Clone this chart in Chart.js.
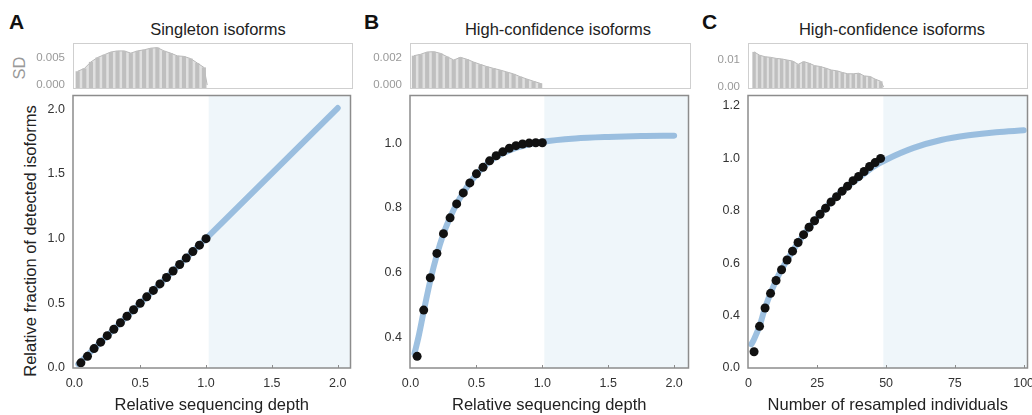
<!DOCTYPE html>
<html>
<head>
<meta charset="utf-8">
<script src="https://cdn.jsdelivr.net/npm/chart.js@4.4.1/dist/chart.umd.min.js"></script>
<style>
  body { margin: 0; background: #fff; width: 1032px; height: 415px; position: relative; overflow: hidden;
         font-family: 'Liberation Sans', Arial, sans-serif; }
  .box { position: absolute; }
  .txt { position: absolute; white-space: nowrap; line-height: 1; color: #222; transform: translate(-50%, -50%); }
  .letter { position: absolute; font-weight: bold; font-size: 21px; line-height: 1; color: #111; transform: translateY(-50%); }
</style>
</head>
<body>
<div class="letter" style="left:9px;top:21px">A</div>
<div class="letter" style="left:364px;top:21px">B</div>
<div class="letter" style="left:702px;top:21px">C</div>

<div class="txt" style="left:218px;top:29px;font-size:16.5px">Singleton isoforms</div>
<div class="txt" style="left:558px;top:29px;font-size:16.5px">High-confidence isoforms</div>
<div class="txt" style="left:892px;top:29px;font-size:16.5px">High-confidence isoforms</div>

<div class="txt" style="left:19px;top:68px;font-size:16.5px;color:#999;transform:translate(-50%,-50%) rotate(-90deg)">SD</div>
<div class="txt" style="left:30px;top:241px;font-size:16.5px;transform:translate(-50%,-50%) rotate(-90deg)">Relative fraction of detected isoforms</div>

<div class="box" style="left:0px;top:41px;width:355px;height:50px"><canvas id="sdA"></canvas></div>
<div class="box" style="left:360px;top:41px;width:333px;height:50px"><canvas id="sdB"></canvas></div>
<div class="box" style="left:698px;top:41px;width:334px;height:50px"><canvas id="sdC"></canvas></div>

<div class="box" style="left:0px;top:91px;width:355px;height:324px"><canvas id="mainA"></canvas></div>
<div class="box" style="left:360px;top:91px;width:333px;height:324px"><canvas id="mainB"></canvas></div>
<div class="box" style="left:698px;top:91px;width:334px;height:324px"><canvas id="mainC"></canvas></div>

<script>
// Panel A: singleton isoforms
const depthA = [0.05, 0.10, 0.15, 0.20, 0.25, 0.30, 0.35, 0.40, 0.45, 0.50, 0.55, 0.60, 0.65, 0.70, 0.75, 0.80, 0.85, 0.90, 0.95, 1.00];
const fracA = [0.04, 0.09, 0.15, 0.20, 0.25, 0.30, 0.35, 0.40, 0.45, 0.50, 0.55, 0.60, 0.65, 0.70, 0.75, 0.80, 0.85, 0.90, 0.95, 1.00];
const fitXA = [0.03, 1.0, 2.0];
const fitYA = [0.03, 1.0, 2.01];
const sdXA = [0.025, 0.075, 0.125, 0.175, 0.225, 0.275, 0.325, 0.375, 0.425, 0.475, 0.525, 0.575, 0.625, 0.675, 0.725, 0.775, 0.825, 0.875, 0.925, 0.975];
const sdA = [0.0025, 0.0030, 0.0042, 0.0050, 0.0055, 0.0060, 0.0062, 0.0062, 0.0058, 0.0062, 0.0064, 0.0067, 0.0068, 0.0062, 0.0058, 0.0053, 0.0052, 0.0048, 0.0040, 0.0032];

// Panel B: high-confidence isoforms vs depth
const depthB = [0.05, 0.10, 0.15, 0.20, 0.25, 0.30, 0.35, 0.40, 0.45, 0.50, 0.55, 0.60, 0.65, 0.70, 0.75, 0.80, 0.85, 0.90, 0.95, 1.00];
const fracB = [0.341, 0.484, 0.584, 0.659, 0.720, 0.769, 0.812, 0.846, 0.877, 0.905, 0.925, 0.945, 0.961, 0.973, 0.984, 0.992, 0.997, 1.000, 1.001, 1.001];
const fitXB = [0.03, 0.06, 0.10, 0.15, 0.20, 0.25, 0.30, 0.35, 0.40, 0.50, 0.60, 0.70, 0.80, 0.90, 1.00, 1.25, 1.50, 1.75, 2.00];
const fitYB = [0.35, 0.40, 0.48, 0.575, 0.655, 0.72, 0.77, 0.812, 0.847, 0.903, 0.943, 0.968, 0.985, 0.996, 1.004, 1.014, 1.019, 1.022, 1.023];
const sdXB = [0.025, 0.075, 0.125, 0.175, 0.225, 0.275, 0.325, 0.375, 0.425, 0.475, 0.525, 0.575, 0.625, 0.675, 0.725, 0.775, 0.825, 0.875, 0.925, 0.975];
const sdB = [0.00212, 0.00222, 0.00239, 0.00241, 0.00229, 0.00205, 0.00181, 0.00200, 0.00186, 0.00166, 0.00149, 0.00133, 0.00120, 0.00108, 0.00094, 0.00080, 0.00060, 0.00043, 0.00027, 0.00012];

// Panel C: high-confidence isoforms vs individuals
const indC = [2, 4, 6, 8, 10, 12, 14, 16, 18, 20, 22, 24, 26, 28, 30, 32, 34, 36, 38, 40, 42, 44, 46, 48];
const fracC = [0.262, 0.359, 0.429, 0.485, 0.534, 0.575, 0.612, 0.646, 0.679, 0.709, 0.737, 0.762, 0.787, 0.810, 0.834, 0.854, 0.875, 0.894, 0.915, 0.931, 0.950, 0.969, 0.984, 1.000];
const fitXC = [1, 2, 4, 6, 10, 14, 20, 24, 30, 36, 40, 46, 50, 60, 70, 80, 90, 100];
const fitYC = [0.29, 0.31, 0.36, 0.43, 0.535, 0.612, 0.709, 0.762, 0.834, 0.894, 0.925, 0.972, 0.995, 1.04, 1.07, 1.088, 1.10, 1.107];
const sdXC = [2, 4, 6, 8, 10, 12, 14, 16, 18, 20, 22, 24, 26, 28, 30, 32, 34, 36, 38, 40, 42, 44, 46, 48];
const sdC = [0.0130, 0.0118, 0.0112, 0.0110, 0.0106, 0.0104, 0.0100, 0.0096, 0.0084, 0.0094, 0.0088, 0.0079, 0.0076, 0.0070, 0.0063, 0.0060, 0.0054, 0.0049, 0.0049, 0.0051, 0.0041, 0.0039, 0.0029, 0.0021];

// where the extrapolated (shaded) part starts, and where SD falls to zero
const extrapFrom = [1.02, 1.015, 49];
const sdEnd = [1.0, 0.98, 49];

// ticks
const depthTicks = [0, 0.5, 1, 1.5, 2];
const depthLabels = ['0.0', '0.5', '1.0', '1.5', '2.0'];
const indTicks = [0, 25, 50, 75, 100];
const indLabels = ['0', '25', '50', '75', '100'];
const yTicksA = [0, 0.5, 1, 1.5, 2];
const yLabelsA = ['0.0', '0.5', '1.0', '1.5', '2.0'];
const yTicksB = [0.4, 0.6, 0.8, 1.0];
const yLabelsB = ['0.4', '0.6', '0.8', '1.0'];
const yTicksC = [0.2, 0.4, 0.6, 0.8, 1.0, 1.2];
const yLabelsC = ['0.0', '0.4', '0.6', '0.8', '1.0', '1.2'];
const sdTicksA = [0, 0.005], sdLabelsA = ['0.000', '0.005'];
const sdTicksB = [0, 0.002], sdLabelsB = ['0.000', '0.002'];
const sdTicksC = [0, 0.01], sdLabelsC = ['0.00', '0.01'];

Chart.defaults.font.family = "'Liberation Sans', Arial, sans-serif";
Chart.defaults.animation = false;

const pts = (xs, ys) => xs.map((x, i) => ({ x: x, y: ys[i] }));

function fixedTicks(values, labels) {
    return {
        afterBuildTicks: s => { s.ticks = values.map(v => ({ value: v })); },
        callback: (v, i) => labels[i]
    };
}

function sdChart(id, xs, vals, endX, xr, yr, tv, tl, yw, padRight) {
    const ft = fixedTicks(tv, tl);
    const frame = {
        id: 'frame',
        afterDatasetsDraw(chart) {
            const a = chart.chartArea, c = chart.ctx;
            c.save();
            c.strokeStyle = '#cfcfcf';
            c.lineWidth = 1;
            c.strokeRect(a.left + 0.5, a.top + 0.5, a.right - a.left - 1, a.bottom - a.top - 1);
            c.restore();
        }
    };
    return new Chart(document.getElementById(id), {
        type: 'bar',
        data: {
            datasets: [
                {
                    data: pts(xs, vals),
                    backgroundColor: '#bfbfbf',
                    borderWidth: 0,
                    barPercentage: 0.62,
                    categoryPercentage: 1,
                    base: yr[0],
                    order: 0
                },
                {
                    type: 'line',
                    data: pts(xs, vals).concat([{ x: endX, y: 0 }]),
                    borderColor: '#b8b8b8',
                    borderWidth: 1,
                    backgroundColor: '#e0e0e0',
                    fill: 'start',
                    pointRadius: 0,
                    order: 1
                }
            ]
        },
        options: {
            responsive: true,
            maintainAspectRatio: false,
            events: [],
            layout: { padding: { top: 2, bottom: 2, left: 0, right: padRight } },
            plugins: { legend: { display: false }, tooltip: { enabled: false } },
            scales: {
                x: { type: 'linear', min: xr[0], max: xr[1], offset: false, display: false },
                y: {
                    min: yr[0], max: yr[1],
                    grid: { display: false, drawTicks: false },
                    border: { display: false },
                    afterBuildTicks: ft.afterBuildTicks,
                    ticks: { padding: 8, color: '#999', font: { size: 11.5 }, callback: ft.callback },
                    afterFit: s => { s.width = yw; s.paddingTop = 0; s.paddingBottom = 0; }
                }
            }
        },
        plugins: [frame]
    });
}

function mainChart(id, dx, dy, fx, fy, shadeFrom, xr, yr, xt, xl, yt, yl, yw, padRight, xTitle) {
    const fx_ = fixedTicks(xt, xl), fy_ = fixedTicks(yt, yl);
    const frame = {
        id: 'frame',
        beforeDatasetsDraw(chart) {
            const a = chart.chartArea, c = chart.ctx;
            const sx = chart.scales.x.getPixelForValue(shadeFrom);
            c.save();
            c.fillStyle = '#eff6fa';
            c.fillRect(sx, a.top, a.right - sx, a.bottom - a.top);
            c.restore();
        },
        afterDatasetsDraw(chart) {
            const a = chart.chartArea, c = chart.ctx;
            c.save();
            c.strokeStyle = '#8c8c8c';
            c.lineWidth = 1.5;
            c.strokeRect(a.left, a.top, a.right - a.left, a.bottom - a.top);
            c.lineWidth = 1;
            c.beginPath();
            xt.forEach(v => {
                const px = Math.round(chart.scales.x.getPixelForValue(v)) + 0.5;
                if (px > a.left + 2 && px < a.right - 2) {
                    c.moveTo(px, a.bottom);
                    c.lineTo(px, a.bottom - 3);
                }
            });
            c.stroke();
            c.restore();
        }
    };
    return new Chart(document.getElementById(id), {
        type: 'scatter',
        data: {
            datasets: [
                {
                    data: pts(dx, dy),
                    backgroundColor: '#111',
                    borderWidth: 0,
                    pointRadius: 4.5,
                    order: 0
                },
                {
                    data: pts(fx, fy),
                    showLine: true,
                    borderColor: 'rgba(132, 176, 216, 0.8)',
                    borderWidth: 6,
                    borderCapStyle: 'round',
                    cubicInterpolationMode: 'monotone',
                    pointRadius: 0,
                    order: 1
                }
            ]
        },
        options: {
            responsive: true,
            maintainAspectRatio: false,
            events: [],
            layout: { padding: { top: 2, bottom: 0, left: 0, right: padRight } },
            plugins: { legend: { display: false }, tooltip: { enabled: false } },
            scales: {
                x: {
                    type: 'linear', min: xr[0], max: xr[1], offset: false,
                    grid: { display: false, drawTicks: false },
                    border: { display: false },
                    afterBuildTicks: fx_.afterBuildTicks,
                    ticks: { padding: 8, color: '#333', font: { size: 12.5 }, maxRotation: 0, autoSkip: false, callback: fx_.callback },
                    title: { display: true, text: xTitle, color: '#222', font: { size: 16.5 }, padding: { top: 0, bottom: 0 } },
                    afterFit: s => { s.height = 47; s.paddingLeft = 0; s.paddingRight = 0; }
                },
                y: {
                    min: yr[0], max: yr[1],
                    grid: { display: false, drawTicks: false },
                    border: { display: false },
                    afterBuildTicks: fy_.afterBuildTicks,
                    ticks: { padding: 8, color: '#333', font: { size: 12.5 }, autoSkip: false, callback: fy_.callback },
                    afterFit: s => { s.width = yw; s.paddingTop = 0; s.paddingBottom = 0; }
                }
            }
        },
        plugins: [frame]
    });
}

sdChart('sdA', sdXA, sdA, sdEnd[0], [-0.01, 2.097], [-0.00073, 0.00764], sdTicksA, sdLabelsA, 73, 2);
sdChart('sdB', sdXB, sdB, sdEnd[1], [-0.004, 2.109], [-0.00029, 0.00304], sdTicksB, sdLabelsB, 50, 2);
sdChart('sdC', sdXC, sdC, sdEnd[2], [-0.2, 101.4], [-0.00074, 0.0163], sdTicksC, sdLabelsC, 50, 4);

mainChart('mainA', depthA, fracA, fitXA, fitYA, extrapFrom[0], [-0.01, 2.097], [0, 2.107],
    depthTicks, depthLabels, yTicksA, yLabelsA, 73, 2, 'Relative sequencing depth');
mainChart('mainB', depthB, fracB, fitXB, fitYB, extrapFrom[1], [-0.004, 2.109], [0.305, 1.147],
    depthTicks, depthLabels, yTicksB, yLabelsB, 50, 2, 'Relative sequencing depth');
mainChart('mainC', indC, fracC, fitXC, fitYC, extrapFrom[2], [-0.2, 101.4], [0.2, 1.24],
    indTicks, indLabels, yTicksC, yLabelsC, 50, 4, 'Number of resampled individuals');
</script>
</body>
</html>
